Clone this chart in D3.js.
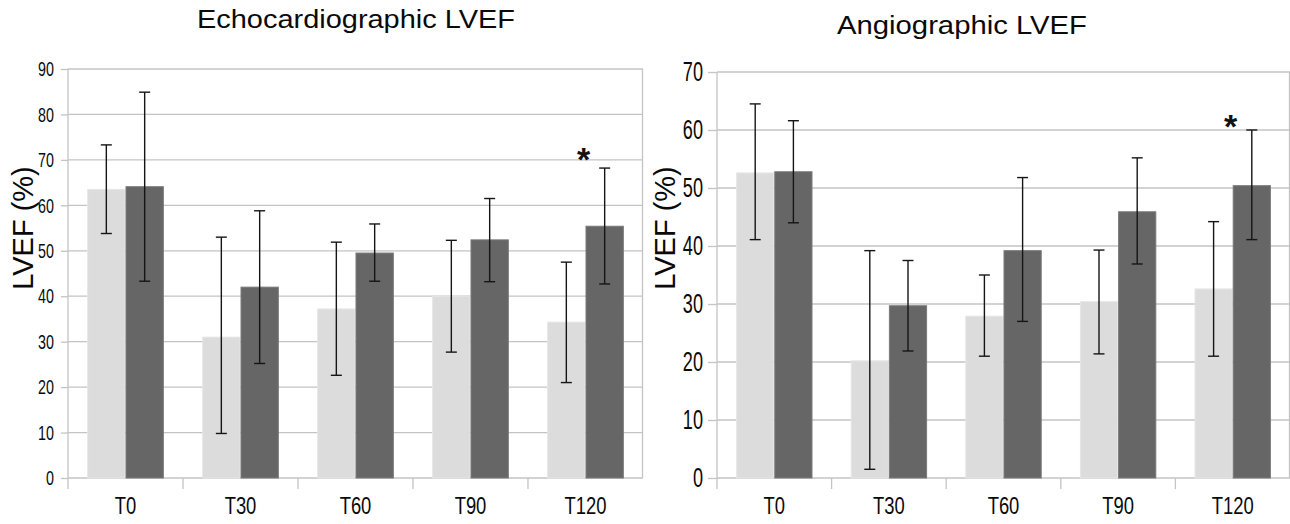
<!DOCTYPE html>
<html>
<head>
<meta charset="utf-8">
<script src="https://cdn.jsdelivr.net/npm/d3@7"></script>
<style>
  html, body { margin: 0; padding: 0; background: #fff; }
  svg { display: block; }
</style>
</head>
<body>
<svg id="chart" width="1290" height="524"></svg>
<script>
// ---------- DATA ----------
const categories = ["T0", "T30", "T60", "T90", "T120"];

// Echocardiographic LVEF (%)
const echoLight     = [63.5, 31.0, 37.2, 40.0, 34.3];
const echoLightLow  = [53.8,  9.8, 22.6, 27.7, 21.0];
const echoLightHigh = [73.3, 53.0, 51.9, 52.3, 47.5];
const echoDark      = [64.1, 42.0, 49.5, 52.4, 55.4];
const echoDarkLow   = [43.3, 25.2, 43.3, 43.2, 42.7];
const echoDarkHigh  = [84.9, 58.8, 55.9, 61.5, 68.2];
const echoTicks     = [0, 10, 20, 30, 40, 50, 60, 70, 80, 90];
const echoMarks     = ["", "", "", "", "*"];
const echoMarkLevel = 72;

// Angiographic LVEF (%)
const angioLight     = [52.6, 20.2, 27.9, 30.4, 32.6];
const angioLightLow  = [41.1,  1.5, 21.0, 21.4, 21.0];
const angioLightHigh = [64.5, 39.2, 35.0, 39.3, 44.2];
const angioDark      = [52.8, 29.7, 39.2, 45.9, 50.4];
const angioDarkLow   = [44.0, 21.9, 27.0, 36.9, 41.1];
const angioDarkHigh  = [61.6, 37.5, 51.8, 55.2, 60.0];
const angioTicks     = [0, 10, 20, 30, 40, 50, 60, 70];
const angioMarks     = ["", "", "", "", "*"];
const angioMarkLevel = 62;

const seriesColors = ["#dcdcdc", "#666666"];
const seriesEdges  = ["#e6e6e6", "#7a7a7a"];

// ---------- DRAW ----------
const svg = d3.select("#chart");
const sans = "'Liberation Sans', Arial, sans-serif";
const gridColor = "#c4c4c4";

function condense(sel, k) {
  sel.each(function () {
    const w = this.getComputedTextLength();
    d3.select(this).attr("textLength", w * k).attr("lengthAdjust", "spacingAndGlyphs");
  });
}

function drawPanel(cfg) {
  const g = svg.append("g");
  const x0 = d3.scaleBand().domain(categories).range([cfg.left, cfg.right])
    .paddingInner(1/3).paddingOuter(1/6);
  const x1 = d3.scaleBand().domain([0, 1]).range([0, x0.bandwidth()]);
  const y = d3.scaleLinear().domain([0, d3.max(cfg.ticks)]).range([cfg.bottom, cfg.top]);
  const step = x0.step();

  // gridlines
  g.append("g").selectAll("line").data(cfg.ticks).join("line")
    .attr("x1", cfg.left).attr("x2", cfg.right)
    .attr("y1", d => y(d)).attr("y2", d => y(d))
    .attr("stroke", gridColor).attr("stroke-width", 1.3);

  // right border
  g.append("line").attr("x1", cfg.right - 0.5).attr("x2", cfg.right - 0.5)
    .attr("y1", y(d3.max(cfg.ticks))).attr("y2", cfg.bottom)
    .attr("stroke", gridColor).attr("stroke-width", 1.3);

  // y axis
  const yAxis = d3.axisLeft(y).tickValues(cfg.ticks).tickSize(cfg.tickLen).tickPadding(cfg.tickPad);
  const ya = g.append("g").attr("transform", `translate(${cfg.left},0)`).call(yAxis);
  ya.attr("font-size", null).attr("font-family", null);
  ya.select(".domain").remove();
  ya.selectAll(".tick line").attr("stroke", gridColor).attr("stroke-width", 1.3);
  ya.selectAll(".tick text")
    .style("font-family", sans).style("font-size", cfg.yFont + "px").attr("fill", "#0a0a0a")
    .call(condense, cfg.yCond);
  g.append("line").attr("x1", cfg.left).attr("x2", cfg.left)
    .attr("y1", y(d3.max(cfg.ticks))).attr("y2", cfg.bottom + 11)
    .attr("stroke", gridColor).attr("stroke-width", 1.3);

  // x axis: category boundary ticks and labels
  const bounds = d3.range(1, categories.length).map(i => cfg.left + i * step);
  g.append("g").selectAll("line").data(bounds).join("line")
    .attr("x1", d => d).attr("x2", d => d)
    .attr("y1", cfg.bottom).attr("y2", cfg.bottom + 11)
    .attr("stroke", gridColor).attr("stroke-width", 1.3);
  g.append("g").selectAll("text").data(categories).join("text")
    .attr("x", d => x0(d) + x0.bandwidth() / 2)
    .attr("y", cfg.bottom + 36)
    .attr("text-anchor", "middle")
    .style("font-family", sans).style("font-size", cfg.xFont + "px").attr("fill", "#0a0a0a")
    .text(d => d)
    .call(condense, 0.8);

  // bars
  const rows = categories.map((c, i) => ({
    cat: c,
    vals: [
      { s: 0, v: cfg.light[i], lo: cfg.lightLow[i], hi: cfg.lightHigh[i] },
      { s: 1, v: cfg.dark[i], lo: cfg.darkLow[i], hi: cfg.darkHigh[i] }
    ]
  }));
  const grp = g.append("g").selectAll("g").data(rows).join("g")
    .attr("transform", d => `translate(${x0(d.cat)},0)`);
  grp.selectAll("rect").data(d => d.vals).join("rect")
    .attr("x", d => x1(d.s) + 0.5)
    .attr("width", x1.bandwidth() - 1)
    .attr("y", d => y(d.v))
    .attr("height", d => cfg.bottom - y(d.v))
    .attr("fill", d => seriesColors[d.s])
    .attr("stroke", d => seriesEdges[d.s]).attr("stroke-width", 1);

  // error bars
  const cap = 5.5;
  const eb = grp.selectAll("g.err").data(d => d.vals).join("g").attr("class", "err");
  eb.append("line")
    .attr("x1", d => x1(d.s) + x1.bandwidth() / 2).attr("x2", d => x1(d.s) + x1.bandwidth() / 2)
    .attr("y1", d => y(d.hi)).attr("y2", d => y(d.lo));
  eb.append("line")
    .attr("x1", d => x1(d.s) + x1.bandwidth() / 2 - cap).attr("x2", d => x1(d.s) + x1.bandwidth() / 2 + cap)
    .attr("y1", d => y(d.hi)).attr("y2", d => y(d.hi));
  eb.append("line")
    .attr("x1", d => x1(d.s) + x1.bandwidth() / 2 - cap).attr("x2", d => x1(d.s) + x1.bandwidth() / 2 + cap)
    .attr("y1", d => y(d.lo)).attr("y2", d => y(d.lo));
  eb.selectAll("line").attr("stroke", "#151515").attr("stroke-width", 1.4);

  // significance markers
  g.append("g").selectAll("text").data(categories.filter((c, i) => cfg.marks[i]))
    .join("text")
    .attr("x", d => x0(d) + x0.bandwidth() / 2 - 2)
    .attr("y", y(cfg.markLevel) + 20)
    .attr("text-anchor", "middle")
    .style("font-family", sans).style("font-size", "34px").attr("font-weight", "bold").attr("fill", "#111")
    .text(d => cfg.marks[categories.indexOf(d)]);

  // y title
  g.append("text")
    .attr("transform", `translate(${cfg.yTitleX},${cfg.yTitleY}) rotate(-90)`)
    .attr("text-anchor", "middle")
    .style("font-family", sans).style("font-size", "29px").attr("fill", "#0a0a0a")
    .text("LVEF (%)");

  // title
  g.append("text")
    .attr("x", cfg.titleX).attr("y", cfg.titleY)
    .attr("text-anchor", "middle")
    .style("font-family", sans).style("font-size", "25px").attr("fill", "#0a0a0a")
    .attr("textLength", cfg.titleLen).attr("lengthAdjust", "spacingAndGlyphs")
    .text(cfg.title);
}

drawPanel({
  title: "Echocardiographic LVEF", titleX: 356, titleY: 28, titleLen: 318,
  left: 68, right: 643, top: 69, bottom: 478,
  ticks: echoTicks, tickLen: 7, tickPad: 7, yFont: 21, yCond: 0.68, xFont: 23,
  yTitleX: 33, yTitleY: 228,
  light: echoLight, lightLow: echoLightLow, lightHigh: echoLightHigh,
  dark: echoDark, darkLow: echoDarkLow, darkHigh: echoDarkHigh,
  marks: echoMarks, markLevel: echoMarkLevel
});

drawPanel({
  title: "Angiographic LVEF", titleX: 962, titleY: 34, titleLen: 250,
  left: 717, right: 1290, top: 72, bottom: 478,
  ticks: angioTicks, tickLen: 9, tickPad: 5, yFont: 27, yCond: 0.67, xFont: 23,
  yTitleX: 675, yTitleY: 228,
  light: angioLight, lightLow: angioLightLow, lightHigh: angioLightHigh,
  dark: angioDark, darkLow: angioDarkLow, darkHigh: angioDarkHigh,
  marks: angioMarks, markLevel: angioMarkLevel
});
</script>
</body>
</html>
